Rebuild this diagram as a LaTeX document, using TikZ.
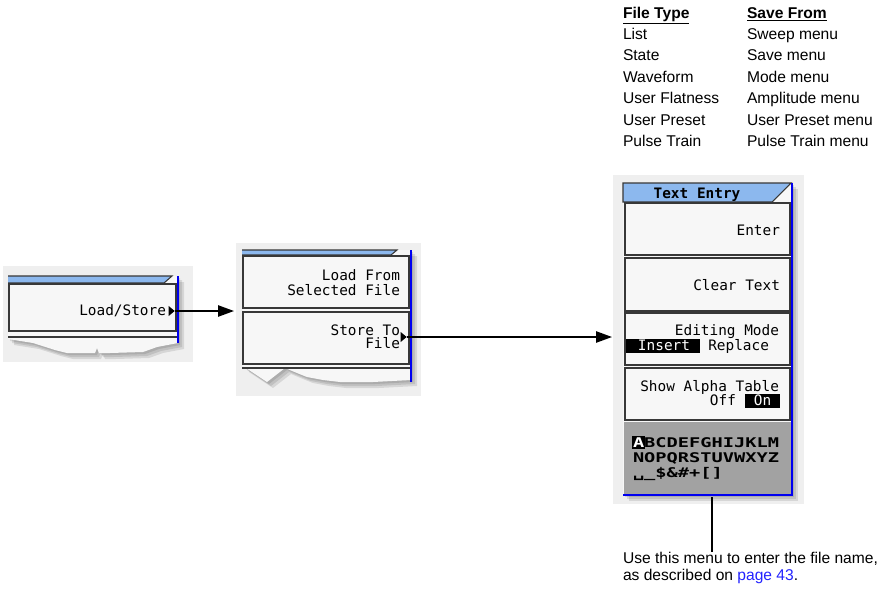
\documentclass[tikz,border=0pt]{standalone}
\usepackage{fontspec}
\setmainfont{Liberation Sans}
\newfontfamily\keyfontfam{DejaVu Sans Mono}
\usepackage{tikz}
\usetikzlibrary{arrows.meta,positioning,shapes.geometric,shadows,calc}
\definecolor{keyblue}{HTML}{0000F0}
\definecolor{tabblue}{HTML}{8CB8EE}
\definecolor{keyface}{HTML}{F7F7F7}
\definecolor{keyedge}{HTML}{383838}
\definecolor{alphagray}{HTML}{A2A2A2}
\definecolor{pagegray}{HTML}{EFEFEF}
\definecolor{linkblue}{HTML}{2222FF}
\newcommand\keyfont{\keyfontfam\fontsize{10.8}{10.6}\selectfont}
\newcommand\alphafont{\keyfontfam\bfseries\fontsize{10}{10}\selectfont}
\newcommand\tblfont{\fontsize{11.7}{14}\selectfont}
\newcommand\notefont{\fontsize{11.7}{12.75}\selectfont}

\begin{document}
\begin{tikzpicture}[x=0.75pt, y=-0.75pt,
  every node/.style={inner sep=0pt, outer sep=0pt},
  panebg/.style={fill=pagegray},
  softshadow/.style={
    general shadow={fill=black, opacity=0.10, shadow xshift=1.5pt, shadow yshift=-1.5pt},
    general shadow={fill=black, opacity=0.10, shadow xshift=3pt, shadow yshift=-3pt},
    general shadow={fill=black, opacity=0.10, shadow xshift=4.5pt, shadow yshift=-4.5pt}},
  panebody/.style={fill=keyface, softshadow},
  tab/.style={fill=tabblue, draw=keyedge, line width=0.8pt},
  softkey/.style={draw=keyedge, fill=keyface, line width=1.2pt},
  stripline/.style={draw=keyedge, line width=1.2pt},
  blueedge/.style={draw=keyblue, line width=1.5pt},
  keylabel/.style={font=\keyfont, anchor=base east},
  invlabel/.style={font=\keyfont, text=white, anchor=base},
  alpharow/.style={font=\alphafont, anchor=base west},
  keymark/.style={isosceles triangle, isosceles triangle apex angle=80,
                  fill=black, minimum size=4.5pt},
  link/.style={line width=1.1pt, -{Triangle[length=12pt, width=8.5pt]}},
  tblhead/.style={font=\tblfont\bfseries, anchor=base west},
  tblcell/.style={font=\tblfont, anchor=base west}
]
\useasboundingbox (0,0) rectangle (886,589);

%% File type table
\node[tblhead] (typehead) at (623,18) {\underline{File Type}};
\node[tblhead] (fromhead) at (747,18) {\underline{Save From}};
\foreach \ftype/\src [count=\r] in {List/Sweep menu, State/Save menu,
    Waveform/Mode menu, User Flatness/Amplitude menu,
    User Preset/User Preset menu, Pulse Train/Pulse Train menu} {
  \node[tblcell] (type\r) at (623,18+21.4*\r) {\ftype};
  \node[tblcell] (src\r)  at (747,18+21.4*\r) {\src};
}

%% Pane backgrounds
\fill[panebg] (3,266) rectangle (193,362);
\fill[panebg] (236,243) rectangle (421,396);
\fill[panebg] (613,175) rectangle (804,504);

%% Load/Store pane
\path[panebody] (8,276) -- (178,276) -- (178,343) -- (157,347) -- (143,352)
  -- (110,353) -- (99,353) -- (97,348) -- (95,353) -- (67,353) -- (55,350)
  -- (33,343) -- (8,339) -- cycle;
\draw[tab] (8,276) -- (172,276) -- (164,283) -- (8,283);
\draw[softkey] (9,284) rectangle (176,331);
\draw[stripline] (8,337) -- (177,337);
\draw[blueedge] (177.5,276) -- (177.5,343);
\node[keylabel] (lslabel) at (166,315) {Load/Store};
\node[keymark] (lsmark) at (171,311) {};

%% File pane
\path[panebody] (242,250) -- (411,250) -- (411,380) -- (373,382) -- (340,382)
  -- (323,380) -- (307,377) -- (297,373) -- (285,368) -- (267,382)
  -- (243,366) -- cycle;
\draw[tab] (242,250) -- (397,250) -- (391,255) -- (242,255);
\draw[softkey] (243,256) rectangle (409,308);
\draw[softkey] (243,312) rectangle (409,364);
\draw[stripline] (242,368) -- (410,368);
\draw[blueedge] (410.5,250) -- (410.5,382);
\node[keylabel] (loadfrom) at (400,280) {Load From};
\node[keylabel] (selfile)  at (400,295) {Selected File};
\node[keylabel] (storeto)  at (400,335) {Store To};
\node[keylabel] (tofile)   at (400,348) {File};
\node[keymark] (stmark) at (403,337) {};

%% Text Entry pane
\path[panebody] (623,183) rectangle (792,495);
\draw[tab] (623,183) -- (791,183) -- (772,202) -- (623,202) -- cycle;
\node[font=\keyfont\bfseries, anchor=base] (tetitle) at (697,198) {Text Entry};
\draw[softkey] (625,203) rectangle (790,255);
\draw[softkey] (625,258) rectangle (790,311);
\draw[softkey] (625,313) rectangle (790,365);
\draw[softkey] (625,368) rectangle (790,420);
\fill[alphagray] (624,422) rectangle (791,494);
\draw[blueedge] (791.5,183) -- (791.5,494.5) -- (623,494.5);
\node[keylabel] (enter) at (780,235) {Enter};
\node[keylabel] (clear) at (780,290) {Clear Text};
\node[keylabel] (editmode) at (779,335) {Editing Mode};
\fill[black] (626,338.5) rectangle (700,353);
\node[invlabel] (insert) at (664,350) {Insert};
\node[keylabel] (replace) at (769,350) {Replace};
\node[keylabel] (showalpha) at (779,391) {Show Alpha Table};
\node[keylabel] (off) at (736,405) {Off};
\fill[black] (745,393.5) rectangle (780,407.5);
\node[invlabel] (on) at (762.5,405) {On};
\fill[black] (632,436) rectangle (645,449);
\node[alpharow] (alpha1) at (633,447)
  {\scalebox{1.4}[1]{\textcolor{white}{A}BCDEFGHIJKLM}};
\node[alpharow] (alpha2) at (633,462) {\scalebox{1.4}[1]{NOPQRSTUVWXYZ}};
\node[alpharow] (alpha3) at (633,477) {\scalebox{1.4}[1]{␣\_\$\&\#+[]}};

%% Connectors
\coordinate (lsend) at (234,311);
\draw[link] (lsmark.east) -- (lsend);
\coordinate (stend) at (612,337);
\draw[link] (stmark.east) -- (stend);

%% Note
\coordinate (tebottom) at (712,497);
\node[font=\notefont, align=left, anchor=north west] (usenote) at (623,552)
  {Use this menu to enter the file name,\\
   as described on \textcolor{linkblue}{page 43}.};
\draw[line width=1.1pt] (tebottom) -- (tebottom |- usenote.north);

\end{tikzpicture}
\end{document}
